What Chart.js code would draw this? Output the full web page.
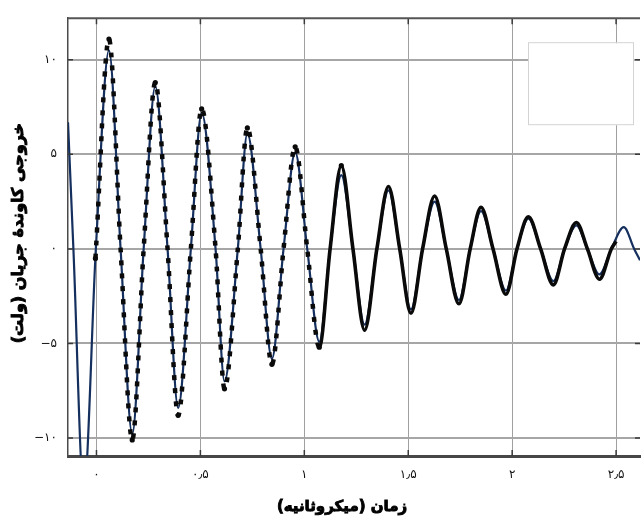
<!DOCTYPE html>
<html lang="fa">
<head>
<meta charset="UTF-8">
<title>خروجی کاوندهٔ جریان</title>
<script src="https://cdn.jsdelivr.net/npm/chart.js@4"></script>
<style>
  html, body { margin: 0; padding: 0; background: #fff; }
  #wrap { width: 644px; height: 520px; }
</style>
</head>
<body>
<div id="wrap"><canvas id="probeChart"></canvas></div>
<script>
// زمان (میکروثانیه) و ولتاژ خوانده‌شده از تصویر
const simTime = [-0.137, -0.111, -0.061, -0.003, 0.060, 0.116, 0.172, 0.227, 0.283, 0.342,
  0.393, 0.454, 0.506, 0.573, 0.616, 0.680, 0.726, 0.790, 0.844, 0.900,
  0.956, 1.014, 1.072, 1.124, 1.178, 1.234, 1.290, 1.349, 1.405, 1.459,
  1.513, 1.569, 1.627, 1.683, 1.744, 1.798, 1.850, 1.908, 1.970, 2.023,
  2.078, 2.137, 2.198, 2.252, 2.309, 2.362, 2.420, 2.477, 2.537, 2.587, 2.615];
const simVolt = [6.7, 0, -12.8, 0, 10.5, 0, -9.8, 0, 8.6, 0,
  -8.4, 0, 7.2, 0, -7.0, 0, 6.1, 0, -5.8, 0,
  5.1, 0, -4.9, 0, 3.9, 0, -4.0, 0, 3.1, 0,
  -3.2, 0, 2.5, 0, -2.7, 0, 2.0, 0, -2.2, 0,
  1.6, 0, -1.7, 0, 1.25, 0, -1.35, 0, 1.15, 0, -0.6];

const measTime = [-0.005, 0.060, 0.116, 0.172, 0.227, 0.283, 0.342, 0.393, 0.454, 0.506,
  0.573, 0.616, 0.680, 0.726, 0.790, 0.844, 0.900, 0.956, 1.014, 1.072,
  1.124, 1.178, 1.234, 1.290, 1.349, 1.405, 1.459, 1.513, 1.569, 1.627,
  1.683, 1.744, 1.798, 1.850, 1.908, 1.970, 2.023, 2.078, 2.137, 2.198,
  2.252, 2.309, 2.362, 2.420, 2.477, 2.500];
const measVolt = [-0.5, 11.1, 0, -10.1, 0, 8.8, 0, -8.8, 0, 7.4,
  0, -7.4, 0, 6.4, 0, -6.1, 0, 5.4, 0, -5.2,
  0, 4.4, 0, -4.3, 0, 3.3, 0, -3.4, 0, 2.8,
  0, -2.9, 0, 2.2, 0, -2.4, 0, 1.7, 0, -1.9,
  0, 1.4, 0, -1.6, 0, 0.4];

const xTicks = [0, 0.5, 1, 1.5, 2, 2.5];
const xLabels = ['۰', '۰٫۵', '۱', '۱٫۵', '۲', '۲٫۵'];
const yTicks = [-10, -5, 0, 5, 10];
const yLabels = ['−۱۰', '−۵', '۰', '۵', '۱۰'];

const xTitle = 'زمان (میکروثانیه)';
const yTitle = 'خروجی کاوندهٔ جریان (ولت)';

const FONT = "'DejaVu Sans', sans-serif";

// frame, inner tick marks, empty legend box and bold axis titles
const framePlugin = {
  id: 'frame',
  afterDraw(chart) {
    const { ctx, chartArea: a, scales } = chart;
    ctx.save();
    ctx.fillStyle = '#fff';
    ctx.fillRect(a.right - 111, a.top + 25, 105, 82);
    ctx.strokeStyle = '#d4d4d4';
    ctx.lineWidth = 1;
    ctx.strokeRect(a.right - 111.5, a.top + 24.5, 105, 82);

    ctx.strokeStyle = '#3a3a3a';
    ctx.lineWidth = 1.5;
    ctx.beginPath();
    xTicks.forEach(v => {
      const px = scales.x.getPixelForValue(v);
      ctx.moveTo(px, a.bottom); ctx.lineTo(px, a.bottom - 6);
      ctx.moveTo(px, a.top); ctx.lineTo(px, a.top + 6);
    });
    yTicks.forEach(v => {
      const py = scales.y.getPixelForValue(v);
      ctx.moveTo(a.left, py); ctx.lineTo(a.left + 5, py);
      ctx.moveTo(a.right, py); ctx.lineTo(a.right - 5, py);
    });
    ctx.stroke();

    ctx.strokeStyle = '#555';
    ctx.lineWidth = 2;
    ctx.beginPath();
    ctx.moveTo(a.left, a.top); ctx.lineTo(a.right, a.top);
    ctx.stroke();

    // axis titles, stroked a little so they read as bold
    ctx.fillStyle = '#000';
    ctx.strokeStyle = '#000';
    ctx.lineWidth = 0.9;
    ctx.font = 'bold 15px ' + FONT;
    ctx.textAlign = 'center';
    ctx.textBaseline = 'middle';
    ctx.fillText(xTitle, (a.left + a.right) / 2 - 12, 507);
    ctx.strokeText(xTitle, (a.left + a.right) / 2 - 12, 507);
    ctx.font = 'bold 16px ' + FONT;
    ctx.translate(19, (a.top + a.bottom) / 2 - 4);
    ctx.rotate(-Math.PI / 2);
    ctx.fillText(yTitle, 0, 0);
    ctx.strokeText(yTitle, 0, 0);
    ctx.restore();
  }
};

const early = ctx => ctx.p0.parsed.x < 1.07;

new Chart(document.getElementById('probeChart'), {
  type: 'line',
  data: {
    datasets: [{
      label: 'اندازه‌گیری',
      data: measTime.map((t, i) => ({ x: t, y: measVolt[i] })),
      borderColor: '#0a0a0a',
      backgroundColor: '#0a0a0a',
      borderWidth: 4,
      pointRadius: ctx => (ctx.raw && ctx.raw.x < 1.25 && ctx.raw.y !== 0) ? 2.6 : 0,
      pointBorderWidth: 0,
      cubicInterpolationMode: 'monotone',
      segment: {
        borderDash: ctx => early(ctx) ? [5, 8] : undefined,
        borderWidth: ctx => early(ctx) ? 4.5 : 3.6
      },
      order: 1
    }, {
      label: 'شبیه‌سازی',
      data: simTime.map((t, i) => ({ x: t, y: simVolt[i] })),
      borderColor: '#15305e',
      borderWidth: 2.2,
      pointRadius: 0,
      cubicInterpolationMode: 'monotone',
      order: 2
    }]
  },
  options: {
    responsive: true,
    maintainAspectRatio: false,
    animation: false,
    layout: { padding: { top: 13, right: 0, left: 0, bottom: 0 } },
    plugins: { legend: { display: false }, tooltip: { enabled: false } },
    scales: {
      x: {
        type: 'linear',
        min: -0.137,
        max: 2.615,
        afterBuildTicks: scale => { scale.ticks = xTicks.map(v => ({ value: v })); },
        afterFit: scale => { scale.height = 64; },
        grid: { color: '#a0a0a0', lineWidth: 1, drawTicks: false },
        border: { display: true, color: '#474747', width: 3 },
        ticks: {
          padding: 12,
          color: '#111',
          font: { family: FONT, size: 12 },
          maxRotation: 0,
          callback: (v, i) => xLabels[i]
        }
      },
      y: {
        min: -10.95,
        max: 12.2,
        afterBuildTicks: scale => { scale.ticks = yTicks.map(v => ({ value: v })); },
        afterFit: scale => { scale.width = 68; },
        grid: { color: '#a6a6a6', lineWidth: 2, drawTicks: false },
        border: { display: true, color: '#4a4a4a', width: 1.5 },
        ticks: {
          padding: 11,
          color: '#111',
          font: { family: FONT, size: 12 },
          callback: (v, i) => yLabels[i]
        }
      }
    }
  },
  plugins: [framePlugin]
});
</script>
</body>
</html>
